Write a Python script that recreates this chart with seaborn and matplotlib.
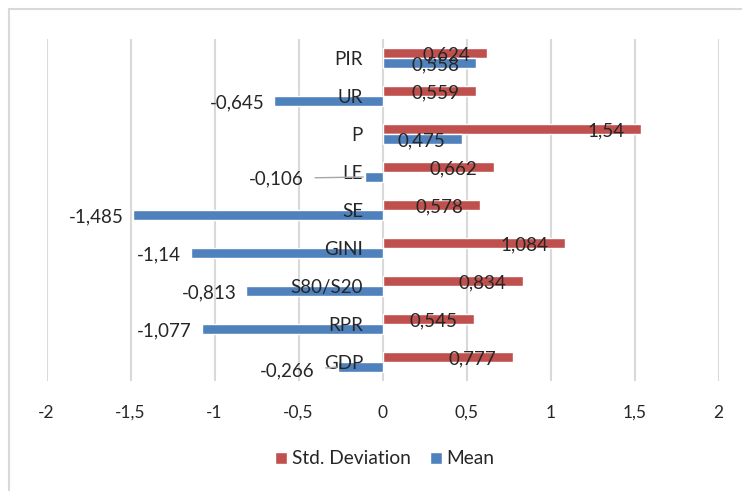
import matplotlib
matplotlib.use("Agg")
import matplotlib.pyplot as plt
import seaborn as sns
import pandas as pd
from matplotlib.patches import Rectangle

# data
categories = ["PIR", "UR", "P", "LE", "SE", "GINI", "S80/S20", "RPR", "GDP"]
std_dev = [0.624, 0.559, 1.54, 0.662, 0.578, 1.084, 0.834, 0.545, 0.777]
mean = [0.558, -0.645, 0.475, -0.106, -1.485, -1.14, -0.813, -1.077, -0.266]
series_names = ["Std. Deviation", "Mean"]
x_ticks = [-2, -1.5, -1, -0.5, 0, 0.5, 1, 1.5, 2]

red = "#C0504D"
blue = "#4F81BD"
grid_col = "#D9D9D9"

df = pd.DataFrame({
  "cat": categories * 2,
  "value": std_dev + mean,
  "series": [series_names[0]] * len(categories) + [series_names[1]] * len(categories),
})

def fmt(v):
  # comma decimal like the original
  return f"{v:g}".replace(".", ",")

sns.set_style("white")
plt.rcParams["font.family"] = ["Lato", "DejaVu Sans"]

fig = plt.figure(figsize=(7.42, 4.91), dpi=100)
ax = fig.add_axes([46.5 / 742, 1 - 381 / 491, 672 / 742, 342 / 491])

sns.barplot(data=df, y="cat", x="value", hue="series", orient="h",
            hue_order=series_names, palette=[red, blue], width=0.526,
            saturation=1, ax=ax, legend=True)

ax.set_xlim(-2, 2)
ax.set_ylim(len(categories) - 0.5, -0.5)
ax.set_xticks(x_ticks)
ax.set_xticklabels([fmt(t) for t in x_ticks], fontsize=12.5)
ax.set_xlabel("")
ax.set_ylabel("")

# vertical gridlines only, behind the bars
ax.grid(axis="x", color=grid_col, linewidth=1.5)
ax.grid(axis="y", visible=False)
ax.set_axisbelow(True)
# but the category labels go on top of the bars
ax.yaxis.set_zorder(5)
for s in ax.spines.values():
  s.set_visible(False)

# category labels sit next to the zero line
ax.spines["left"].set_position(("data", 0))
ax.tick_params(axis="y", length=0, pad=14, labelsize=13.5)
ax.tick_params(axis="x", length=0, pad=17)

# data labels
special = {"LE": (-44, -1), "GDP": (-17, -3)}
for ci, cont in enumerate(ax.containers):
  vals = std_dev if ci == 0 else mean
  for i, bar in enumerate(cont.patches):
    v = vals[i]
    yc = bar.get_y() + bar.get_height() / 2
    if v >= 0:
      ax.annotate(fmt(v), xy=(v, yc), xytext=(-12, -1), textcoords="offset points",
                  ha="right", va="center", fontsize=13.5, zorder=6)
    elif ci == 1 and categories[i] in special:
      dx, dy = special[categories[i]]
      ax.annotate(fmt(v), xy=(v, yc), xytext=(dx, dy), textcoords="offset points",
                  ha="right", va="center", fontsize=13.5, zorder=6,
                  arrowprops=dict(arrowstyle="-", color="#A6A6A6", lw=1,
                                  shrinkA=6, shrinkB=1))
    else:
      ax.annotate(fmt(v), xy=(v, yc), xytext=(-7, -1), textcoords="offset points",
                  ha="right", va="center", fontsize=13.5, zorder=6)

# legend at bottom
ax.legend_.remove()
h, l = ax.get_legend_handles_labels()
fig.legend(h, l, loc="center", bbox_to_anchor=(385 / 742, 1 - 459 / 491), ncol=2,
           frameon=False, fontsize=13.8, handlelength=0.62, handleheight=0.62,
           handletextpad=0.25, columnspacing=1.0)

# light chart border
fig.patches.append(Rectangle((9 / 742, -0.1), 1.1, 1 - 9 / 491 + 0.1,
                             transform=fig.transFigure, fill=False,
                             edgecolor=grid_col, linewidth=1.5))

fig.savefig("out.png", dpi=100)
